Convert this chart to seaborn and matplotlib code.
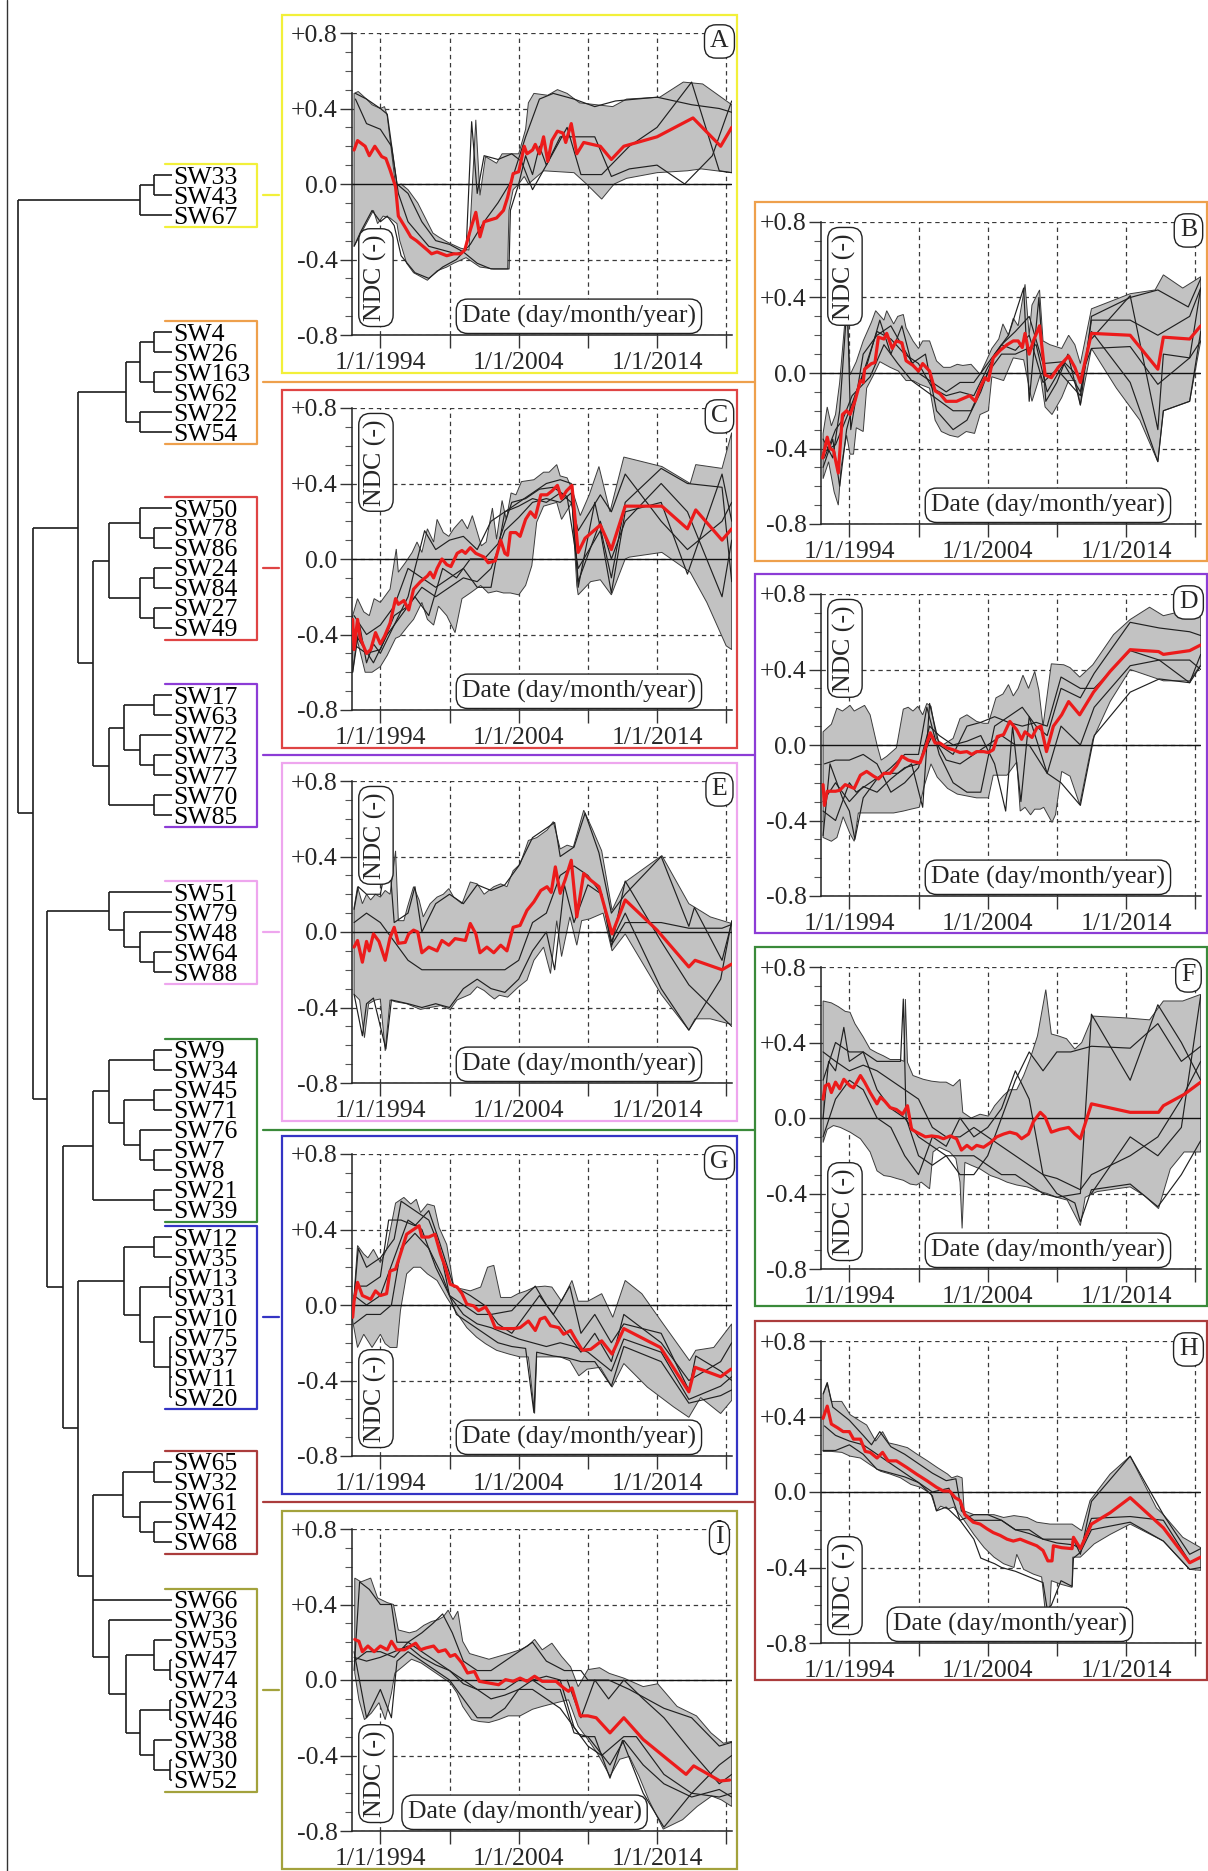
import numpy as np
import pandas as pd
import matplotlib
matplotlib.use("Agg")
import matplotlib.pyplot as plt
import seaborn as sns
from matplotlib.patches import Rectangle
from matplotlib import font_manager as fm

# ---------------------------------------------------------------------------
# Cluster membership (dendrogram leaves, top to bottom) and panel colours
# ---------------------------------------------------------------------------
panel_letters = ["A", "B", "C", "D", "E", "F", "G", "H", "I"]
cluster_sites = {
    "A": ["SW33", "SW43", "SW67"],
    "B": ["SW4", "SW26", "SW163", "SW62", "SW22", "SW54"],
    "C": ["SW50", "SW78", "SW86", "SW24", "SW84", "SW27", "SW49"],
    "D": ["SW17", "SW63", "SW72", "SW73", "SW77", "SW70", "SW85"],
    "E": ["SW51", "SW79", "SW48", "SW64", "SW88"],
    "F": ["SW9", "SW34", "SW45", "SW71", "SW76", "SW7", "SW8", "SW21", "SW39"],
    "G": ["SW12", "SW35", "SW13", "SW31", "SW10", "SW75", "SW37", "SW11", "SW20"],
    "H": ["SW65", "SW32", "SW61", "SW42", "SW68"],
    "I": ["SW66", "SW36", "SW53", "SW47", "SW74", "SW23", "SW46", "SW38", "SW30", "SW52"],
}
cluster_colors = {
    "A": "#f2f03a", "B": "#eea04c", "C": "#df4444", "D": "#8c3cd6",
    "E": "#eea6ee", "F": "#3a8a3a", "G": "#3434c4", "H": "#ab3c3c", "I": "#a3a23c",
}

# Linkage heights (dissimilarity, root = 1)
def N(h, *children):
    return (h, list(children))

tree_A = N(0.21, N(0.12, "SW33", "SW43"), "SW67")
tree_B = N(0.30, N(0.21, N(0.12, "SW4", "SW26"), N(0.12, "SW163", "SW62")),
           N(0.21, "SW22", "SW54"))
tree_C = N(0.41, N(0.21, "SW50", N(0.12, "SW78", "SW86")),
           N(0.21, N(0.12, "SW24", "SW84"), N(0.12, "SW27", "SW49")))
tree_D = N(0.41, N(0.31, N(0.12, "SW17", "SW63"), N(0.21, "SW72", N(0.12, "SW73", "SW77"))),
           N(0.12, "SW70", "SW85"))
tree_E = N(0.41, "SW51", N(0.31, "SW79", N(0.21, "SW48", N(0.12, "SW64", "SW88"))))
tree_F = N(0.51, N(0.41, N(0.12, "SW9", "SW34"),
                   N(0.31, N(0.12, "SW45", "SW71"), N(0.21, "SW76", N(0.12, "SW7", "SW8")))),
           N(0.12, "SW21", "SW39"))
tree_G = N(0.31, N(0.12, "SW12", "SW35"),
           N(0.21, N(0.01, "SW13", "SW31"), N(0.12, "SW10", N(0.01, "SW75", "SW37", "SW11", "SW20"))))
tree_H = N(0.32, N(0.12, "SW65", "SW32"), N(0.21, "SW61", N(0.12, "SW42", "SW68")))
tree_I = N(0.41, "SW36", N(0.30, N(0.12, "SW53", N(0.01, "SW47", "SW74")),
                          N(0.21, N(0.01, "SW23", "SW46"), N(0.12, "SW38", N(0.01, "SW30", "SW52")))))
tree_root = N(1.00, tree_A,
              N(0.90, N(0.61, tree_B, N(0.51, tree_C, tree_D)),
                      N(0.81, tree_E, N(0.71, tree_F, N(0.61, tree_G, N(0.51, tree_H, "SW66", tree_I))))))

# ---------------------------------------------------------------------------
# NDC series per cluster: (decimal year, NDC)
# ---------------------------------------------------------------------------
A_mean = [(1992.1, .18), (1992.35, .23), (1992.9, .20), (1993.2, .15), (1993.6, .20), (1994.1, .145),
          (1994.4, .135), (1994.7, .075), (1995.1, -.015), (1995.3, -.17), (1995.8, -.23), (1996.2, -.28),
          (1996.6, -.30), (1997.4, -.35), (1997.7, -.37), (1998.1, -.36), (1998.8, -.38), (1999.3, -.37),
          (1999.8, -.37), (2000.1, -.35), (2000.5, -.245), (2000.9, -.15), (2001.2, -.28), (2001.5, -.20),
          (2002.4, -.18), (2002.9, -.14), (2003.2, -.07), (2003.6, .055), (2004.0, .065), (2004.4, .20),
          (2004.6, .16), (2005.0, .18), (2005.2, .21), (2005.5, .16), (2005.8, .25), (2006.1, .12),
          (2006.4, .23), (2006.8, .28), (2007.2, .27), (2007.4, .22), (2007.8, .32), (2008.2, .16),
          (2008.7, .22), (2009.9, .20), (2010.7, .13), (2011.6, .20), (2014.0, .25), (2016.6, .35),
          (2018.6, .20), (2019.4, .30)]
A_upper = [(1992.1, .48), (1992.4, .49), (1993.0, .45), (1993.4, .42), (1994.0, .40), (1994.3, .41),
           (1994.5, .36), (1995.1, -.01), (1995.5, 0.0), (1996.0, -.03), (1996.7, -.10), (1997.8, -.26),
           (1998.2, -.28), (1998.9, -.31), (1999.8, -.34), (2000.4, -.35), (2000.9, .34), (2001.2, -.06),
           (2001.6, .145), (2002.4, .11), (2002.8, .16), (2004.0, .16), (2004.5, .29), (2004.7, .43),
           (2005.1, .48), (2006.1, .47), (2006.8, .50), (2007.5, .48), (2008.4, .43), (2010.8, .41),
           (2011.8, .45), (2014.2, .46), (2015.9, .54), (2017.3, .53), (2019.4, .42)]
A_lower = [(1992.1, -.33), (1993.5, -.14), (1993.8, -.21), (1994.2, -.17), (1994.7, -.18), (1995.2, -.21),
           (1995.4, -.30), (1995.9, -.42), (1996.4, -.47), (1997.4, -.51), (1998.1, -.46), (1998.8, -.44),
           (1999.3, -.42), (2000.2, -.39), (2001.2, -.44), (2002.2, -.45), (2003.2, -.45), (2003.3, -.14),
           (2003.6, -.03), (2004.0, 0.0), (2004.4, .04), (2004.7, 0.0), (2005.8, .07), (2008.0, .06),
           (2008.9, 0.0), (2010.0, -.08), (2010.9, 0.0), (2011.8, .03), (2014.0, .06), (2016.2, .07),
           (2017.2, .08), (2019.4, .06)]
A_site1 = [(1992.2, .48), (1993.0, .45), (1994.0, .40), (1994.5, .37), (1995.2, 0.0), (1996.0, -.05),
           (1997.0, -.20), (1998.0, -.30), (1999.0, -.32), (2000.0, -.36), (2001.0, -.42), (2002.0, -.45),
           (2003.3, -.45), (2003.4, -.14), (2004.0, 0.0), (2004.5, .15), (2005.0, .05), (2005.5, .20),
           (2006.0, .10), (2007.0, .25), (2008.0, .25), (2009.5, .25), (2010.7, .04), (2012.0, .08),
           (2014.0, .10), (2016.0, 0.0), (2018.0, .15), (2019.4, .44)]
A_site2 = [(1992.1, -.33), (1992.6, -.25), (1993.4, -.14), (1994.0, -.20), (1994.5, -.17), (1995.0, -.22),
           (1995.5, -.38), (1996.5, -.47), (1997.5, -.50), (1998.5, -.44), (1999.5, -.40), (2000.5, -.32),
           (2001.5, -.20), (2002.5, -.10), (2003.5, .02), (2004.5, .25), (2005.5, .45), (2006.5, .48),
           (2008.0, .45), (2009.5, .41), (2011.0, .44), (2014.0, .46), (2016.5, .42), (2018.5, .40),
           (2019.4, .38)]
A_site3 = [(1992.2, .45), (1993.0, .32), (1994.0, .29), (1994.8, .20), (1995.3, -.05), (1996.0, -.20),
           (1997.5, -.33), (1999.5, -.37), (2000.2, -.35), (2000.6, .33), (2001.0, -.05), (2001.5, .15),
           (2002.5, .13), (2003.5, .16), (2004.2, .12), (2005.0, -.03), (2006.0, .10), (2007.5, .30),
           (2008.5, .05), (2010.0, .05), (2012.0, .20), (2014.0, .30), (2016.5, .54), (2018.5, .07),
           (2019.4, .06)]

B_mean = [(1992.07, -.45), (1992.2, -.41), (1992.4, -.34), (1992.6, -.40), (1992.85, -.41), (1993.2, -.53),
          (1993.5, -.22), (1993.8, -.20), (1994.05, -.22), (1994.4, -.15), (1994.8, -.04), (1995.0, -.05),
          (1995.1, .02), (1995.6, .05), (1995.85, .055), (1996.1, .19), (1996.5, .18), (1996.7, .21),
          (1997.1, .13), (1997.4, .17), (1997.8, .16), (1998.1, .065), (1998.6, .04), (1999.0, .01),
          (1999.3, .05), (1999.8, .01), (2000.2, -.095), (2000.55, -.11), (2001.0, -.15), (2001.75, -.15),
          (2002.7, -.12), (2003.1, -.15), (2003.45, -.08), (2003.8, -.025), (2004.05, -.04), (2004.4, .08),
          (2004.9, .12), (2005.4, .15), (2005.85, .17), (2006.2, .17), (2006.5, .135), (2006.7, .21),
          (2007.0, .10), (2007.3, .17), (2007.75, .25), (2008.15, -.01), (2008.6, -.025), (2009.1, .03),
          (2009.85, .09), (2010.3, .03), (2010.7, -.05), (2011.5, .21), (2014.3, .20), (2016.3, .02),
          (2016.7, .19), (2018.6, .18), (2019.4, .25)]
B_upper = [(1992.1, -.32), (1992.4, -.18), (1992.7, -.28), (1993.0, -.22), (1993.3, -.05), (1993.8, .38),
           (1994.05, -.01), (1994.5, .06), (1995.0, .17), (1995.6, .27), (1995.9, .33), (1996.5, .28),
           (1996.7, .33), (1997.2, .26), (1997.5, .30), (1997.9, .31), (1998.1, .24), (1998.6, .17),
           (1999.0, .13), (1999.3, .17), (1999.8, .17), (2000.3, .064), (2000.8, .03), (2001.3, .03),
           (2001.8, .046), (2002.2, .04), (2002.8, .046), (2003.45, -.007), (2003.9, .064), (2004.3, .13),
           (2004.8, .18), (2005.1, .26), (2005.5, .20), (2005.85, .29), (2006.2, .25), (2006.7, .47),
           (2007.0, .20), (2007.2, .36), (2007.75, .44), (2008.0, .17), (2008.5, .15), (2009.35, .13),
           (2009.85, .20), (2010.3, .15), (2010.7, .05), (2011.5, .34), (2014.3, .42), (2016.1, .44),
           (2016.7, .52), (2018.1, .45), (2019.4, .51)]
B_lower = [(1992.1, -.56), (1992.5, -.47), (1992.9, -.63), (1993.2, -.70), (1993.4, -.50), (1993.8, -.33),
           (1994.05, -.43), (1994.3, -.43), (1994.5, -.29), (1995.0, -.31), (1995.25, -.08), (1995.75, -.01),
           (1996.2, .06), (1996.95, .03), (1997.55, .01), (1998.1, -.04), (1998.6, -.04), (1999.1, -.06),
           (1999.8, -.08), (2000.2, -.25), (2000.65, -.31), (2001.25, -.33), (2001.85, -.34), (2002.45, -.31),
           (2003.05, -.32), (2003.45, -.22), (2004.05, -.20), (2004.3, -.02), (2005.15, -.04), (2005.85, .08),
           (2006.6, .07), (2007.2, -.15), (2007.8, -.01), (2008.15, -.18), (2008.65, -.22), (2009.35, -.13),
           (2009.85, -.04), (2010.35, -.04), (2010.7, -.17), (2011.5, .13), (2013.3, -.08), (2015.0, -.25),
           (2016.3, -.47), (2016.7, -.20), (2018.6, -.15), (2019.4, .17)]
B_site1 = [(1992.1, -.50), (1992.8, -.35), (1993.3, -.60), (1993.8, -.30), (1994.5, -.10), (1995.3, .05),
           (1996.2, .28), (1997.0, .10), (1997.8, .25), (1998.5, .05), (1999.5, .10), (2000.3, -.20),
           (2001.5, -.30), (2002.5, -.25), (2003.5, -.10), (2004.5, .10), (2005.5, .20), (2006.6, .45),
           (2007.0, -.15), (2007.7, .40), (2008.2, -.15), (2009.0, -.05), (2009.8, .10), (2010.7, -.17),
           (2011.5, .30), (2014.3, .40), (2016.3, .44), (2018.5, .35), (2019.4, .50)]
B_site2 = [(1992.1, -.35), (1992.8, -.45), (1993.3, -.20), (1993.85, .38), (1994.1, -.30), (1995.0, .10),
           (1996.0, .20), (1997.0, .25), (1998.0, .12), (1999.0, 0.0), (2000.0, -.05), (2001.0, -.10),
           (2002.0, -.05), (2003.0, -.05), (2004.0, .05), (2005.0, .15), (2006.0, .22), (2007.0, .30),
           (2008.0, .05), (2009.5, .06), (2010.7, -.03), (2011.5, .13), (2014.3, .14), (2016.3, -.06),
           (2018.6, .08), (2019.4, .17)]
B_site3 = [(1992.2, -.45), (1993.0, -.30), (1993.5, -.25), (1994.2, -.12), (1995.5, -.02), (1996.5, .15),
           (1997.5, .05), (1998.5, -.04), (2000.0, -.12), (2001.5, -.20), (2002.8, -.20), (2004.0, 0.0),
           (2005.0, .10), (2006.0, .10), (2007.5, .15), (2008.3, -.10), (2009.5, .05), (2010.7, -.10),
           (2011.5, .22), (2014.3, -.05), (2016.3, -.47), (2016.7, -.20), (2018.6, -.15), (2019.4, .22)]
B_site4 = [(2011.5, .18), (2014.3, .41), (2016.3, -.30), (2016.7, .10), (2018.6, .08), (2019.4, .45)]
B_site5 = [(1992.1, -.42), (1993.0, -.38), (1994.0, -.20), (1995.0, 0.0), (1996.0, .22), (1997.0, .18),
           (1998.0, .10), (1999.0, .05), (2000.0, -.08), (2001.0, -.12), (2002.0, -.10), (2003.0, -.12),
           (2004.0, .03), (2005.0, .15), (2006.0, .12), (2007.0, .20), (2008.0, -.05), (2009.0, .02),
           (2010.7, -.12), (2011.5, .28), (2014.3, .28), (2016.3, .20), (2018.6, .30), (2019.4, .45)]

C_mean = [(1992.0, -.32), (1992.1, -.48), (1992.35, -.32), (1992.55, -.42), (1993.0, -.50), (1993.3, -.48),
          (1993.65, -.39), (1994.0, -.45), (1994.3, -.41), (1994.7, -.34), (1995.1, -.21), (1995.3, -.24),
          (1995.7, -.22), (1996.05, -.27), (1996.4, -.16), (1996.9, -.12), (1997.4, -.09), (1997.6, -.07),
          (1997.85, -.10), (1998.1, -.05), (1998.45, 0.0), (1998.8, -.03), (1999.1, -.04), (1999.55, .03),
          (1999.9, .045), (2000.15, .03), (2000.5, .06), (2000.9, .03), (2001.5, .01), (2001.8, -.02),
          (2002.3, -.01), (2002.7, .10), (2003.0, .03), (2003.2, .02), (2003.4, .14), (2003.8, .14),
          (2004.1, .12), (2004.5, .21), (2004.85, .25), (2005.2, .22), (2005.6, .34), (2006.05, .34),
          (2006.4, .36), (2006.8, .39), (2007.1, .32), (2007.45, .36), (2007.85, .39), (2008.3, .035),
          (2008.8, .11), (2009.9, .18), (2010.7, .05), (2011.7, .28), (2014.35, .28), (2016.2, .16),
          (2016.8, .26), (2018.7, .10), (2019.4, .16)]
C_upper = [(1992.0, -.30), (1992.35, -.21), (1992.8, -.28), (1993.2, -.30), (1993.55, -.21), (1994.0, -.23),
           (1994.4, -.19), (1994.7, -.16), (1995.15, .053), (1995.3, -.07), (1995.8, -.02), (1996.3, .035),
           (1996.65, .09), (1997.0, .035), (1997.4, .16), (1997.85, .09), (1998.1, .21), (1998.55, .14),
           (1998.95, .12), (1999.3, .16), (1999.9, .21), (2000.3, .16), (2000.65, .23), (2001.3, .07),
           (2001.65, .09), (2002.1, .27), (2002.4, .105), (2002.8, .31), (2003.1, .21), (2003.45, .35),
           (2003.8, .34), (2004.2, .41), (2005.1, .42), (2005.8, .46), (2006.2, .46), (2006.75, .50),
           (2007.0, .44), (2007.5, .43), (2007.85, .37), (2008.45, .23), (2009.1, .34), (2009.8, .49),
           (2010.6, .25), (2011.6, .54), (2014.35, .49), (2016.4, .40), (2016.8, .50), (2018.7, .48),
           (2019.4, .67)]
C_lower = [(1992.0, -.60), (1992.3, -.42), (1992.9, -.60), (1993.4, -.60), (1994.0, -.57), (1994.5, -.51),
           (1995.1, -.42), (1995.4, -.41), (1996.05, -.35), (1996.4, -.32), (1997.0, -.23), (1997.4, -.32),
           (1997.85, -.35), (1998.2, -.25), (1998.8, -.30), (1999.4, -.39), (1999.9, -.21), (2000.5, -.18),
           (2001.25, -.14), (2001.8, -.18), (2002.4, -.17), (2002.9, -.18), (2003.4, -.18), (2004.0, -.19),
           (2004.5, -.14), (2004.95, -.035), (2005.3, .195), (2005.8, .28), (2006.75, .30), (2007.1, .21),
           (2007.85, .30), (2008.2, -.14), (2008.3, -.19), (2009.2, -.12), (2009.9, -.11), (2010.7, -.19),
           (2011.7, 0.0), (2012.0, .01), (2014.35, .035), (2016.4, -.07), (2017.6, -.23), (2019.0, -.46),
           (2019.4, -.48)]
C_site1 = [(1992.0, -.60), (1992.5, -.35), (1993.0, -.55), (1993.5, -.45), (1994.0, -.50), (1995.0, -.35),
           (1996.0, -.20), (1996.5, -.05), (1997.2, .15), (1998.0, .05), (1999.0, .10), (2000.0, .12),
           (2001.0, .05), (2002.0, .20), (2003.0, .25), (2004.0, .30), (2005.0, .35), (2006.0, .40),
           (2007.0, .42), (2007.8, .40), (2008.3, -.15), (2009.5, .30), (2010.7, -.10), (2011.7, .30),
           (2014.3, .48), (2016.2, .40), (2018.7, .38), (2019.4, -.12)]
C_site2 = [(1992.1, -.30), (1993.0, -.40), (1994.0, -.35), (1995.0, -.25), (1996.0, -.05), (1997.0, -.10),
           (1998.0, -.15), (1999.0, -.10), (2000.0, -.05), (2001.0, -.15), (2002.0, -.15), (2003.0, .25),
           (2004.0, .28), (2005.0, .32), (2006.0, .30), (2007.0, .35), (2007.8, .30), (2008.3, .15),
           (2009.9, .34), (2010.7, .25), (2011.7, .45), (2014.3, .20), (2016.2, .05), (2018.7, .20),
           (2019.4, .30)]
C_site3 = [(1992.2, -.40), (1993.5, -.55), (1994.5, -.40), (1995.5, -.30), (1996.5, -.20), (1997.5, -.30),
           (1998.5, -.05), (1999.5, -.10), (2000.5, 0.0), (2001.5, 0.0), (2002.5, .08), (2003.5, .30),
           (2004.5, .32), (2005.5, .37), (2006.5, .38), (2007.5, .33), (2008.3, -.05), (2009.9, .15),
           (2010.7, -.18), (2011.7, .25), (2014.3, .30), (2016.2, -.08), (2018.7, .45), (2019.4, .20)]
C_site4 = [(1992.0, -.45), (1993.0, -.50), (1994.0, -.48), (1995.0, -.30), (1996.0, -.25), (1997.0, -.15),
           (1998.0, -.20), (1999.0, -.15), (2000.0, -.10), (2001.0, -.12), (2002.0, -.05), (2003.0, .15),
           (2004.0, .22), (2005.0, .30), (2006.0, .32), (2007.0, .30), (2007.8, .35), (2008.3, -.12),
           (2009.9, .20), (2010.7, 0.0), (2011.7, .20), (2014.3, .40), (2016.2, .25), (2018.7, -.20),
           (2019.4, .10)]

D_mean = [(1992.1, -.21), (1992.2, -.32), (1992.4, -.245), (1993.0, -.245), (1993.3, -.24), (1993.7, -.21),
          (1994.35, -.23), (1994.8, -.16), (1995.25, -.14), (1995.75, -.165), (1996.1, -.18), (1996.5, -.15),
          (1996.95, -.15), (1997.4, -.11), (1997.8, -.06), (1998.25, -.08), (1998.75, -.09), (1999.1, -.095),
          (1999.5, -.015), (1999.85, .065), (2000.2, .01), (2000.55, .01), (2001.05, -.015), (2001.5, -.025),
          (2002.0, -.04), (2002.5, -.035), (2002.85, -.05), (2003.2, -.035), (2003.7, -.035), (2004.05, -.04),
          (2004.4, -.025), (2004.7, .045), (2005.15, .055), (2005.6, .125), (2006.1, .08), (2006.45, .03),
          (2006.7, .07), (2007.2, .04), (2007.55, .09), (2007.85, .10), (2008.25, -.035), (2008.75, .10),
          (2009.35, .16), (2009.85, .23), (2010.65, .16), (2011.65, .28), (2012.85, .39), (2014.3, .505),
          (2016.35, .495), (2016.7, .48), (2018.6, .50), (2019.4, .53)]
D_upper = [(1992.1, .07), (1992.7, .11), (1993.1, .195), (1993.5, .18), (1994.05, .21), (1994.35, .18),
           (1994.6, .19), (1995.1, .21), (1995.5, .16), (1996.0, 0.0), (1996.3, -.08), (1996.7, -.06),
           (1997.4, -.015), (1997.9, .19), (1998.25, .20), (1998.6, .18), (1998.95, .205), (1999.3, .16),
           (1999.6, .22), (1999.9, .205), (2000.3, .035), (2000.75, 0.0), (2001.5, .035), (2002.0, .14),
           (2002.5, .16), (2003.2, .125), (2003.7, .115), (2004.05, .115), (2004.6, .25), (2005.1, .27),
           (2005.5, .32), (2005.85, .26), (2006.2, .30), (2006.55, .37), (2006.95, .30), (2007.4, .39),
           (2007.7, .29), (2008.0, .10), (2008.6, .43), (2009.5, .425), (2009.95, .41), (2010.65, .36),
           (2011.6, .425), (2013.1, .585), (2014.3, .665), (2015.7, .73), (2016.7, .685), (2018.1, .71),
           (2019.4, .75)]
D_lower = [(1992.1, -.49), (1992.7, -.51), (1993.1, -.49), (1993.55, -.38), (1994.05, -.47), (1994.35, -.51),
           (1994.65, -.36), (1995.5, -.36), (1996.5, -.36), (1997.2, -.36), (1997.9, -.35), (1998.45, -.34),
           (1999.05, -.33), (1999.4, -.22), (1999.9, -.10), (2000.35, -.17), (2001.1, -.23), (2001.8, -.26),
           (2002.5, -.27), (2003.2, -.28), (2004.05, -.28), (2004.4, -.16), (2005.4, -.16), (2006.1, -.09),
           (2006.35, -.35), (2006.7, -.33), (2007.1, -.37), (2007.4, -.34), (2007.8, -.34), (2008.05, -.33),
           (2008.65, -.41), (2008.9, -.37), (2009.35, -.14), (2009.95, -.165), (2010.65, -.315), (2011.6, .03),
           (2012.85, .23), (2014.3, .40), (2016.7, .34), (2018.6, .34), (2019.4, .425)]
D_site1 = [(1992.1, -.48), (1992.6, -.10), (1993.5, -.28), (1994.0, -.35), (1994.4, -.50), (1995.0, -.28),
           (1996.0, -.18), (1997.0, -.12), (1998.0, -.05), (1999.0, -.05), (1999.6, .20), (2000.5, -.05),
           (2001.5, -.20), (2002.5, -.25), (2003.5, -.25), (2004.5, .10), (2005.5, .15), (2006.5, .20),
           (2007.5, .10), (2008.3, .05), (2009.3, .30), (2010.7, .25), (2011.7, .38), (2014.3, .65),
           (2016.4, .62), (2018.6, .60), (2019.4, .58)]
D_site2 = [(1992.2, -.10), (1993.0, -.08), (1994.0, -.08), (1995.0, -.05), (1996.0, -.10), (1997.0, -.25),
           (1998.0, -.20), (1999.0, -.12), (1999.8, .10), (2000.5, .05), (2001.5, 0.0), (2002.5, .02),
           (2003.5, .05), (2004.5, -.10), (2005.3, -.35), (2005.8, .10), (2006.4, -.30), (2007.0, .15),
           (2008.3, -.15), (2009.3, -.20), (2010.7, -.32), (2011.7, .05), (2014.3, .28), (2016.4, .35),
           (2018.6, .33), (2019.4, .42)]
D_site3 = [(1992.1, -.35), (1993.0, -.40), (1994.0, -.20), (1994.5, -.25), (1995.5, -.20), (1996.5, -.15),
           (1997.5, -.15), (1998.5, -.10), (1999.3, -.33), (1999.8, .22), (2000.5, 0.0), (2001.5, -.05),
           (2002.5, .10), (2003.5, .12), (2004.5, .15), (2005.5, .12), (2006.5, .10), (2007.5, .12),
           (2008.3, .10), (2009.3, .36), (2010.7, .30), (2011.7, .30), (2014.3, .50), (2016.4, .45),
           (2018.6, .33), (2019.4, .48)]
D_site4 = [(1992.1, -.30), (1993.0, -.20), (1994.0, -.30), (1995.0, -.22), (1996.0, -.25), (1997.0, -.18),
           (1998.0, -.12), (1999.0, -.10), (2000.0, .05), (2001.0, -.08), (2002.0, -.10), (2003.0, -.05),
           (2004.0, 0.0), (2005.0, .05), (2006.0, 0.0), (2007.0, 0.0), (2008.3, -.15), (2009.3, .10),
           (2010.7, 0.0), (2011.7, .20), (2014.3, .42), (2016.4, .45), (2018.6, .45), (2019.4, .40)]

E_mean = [(1992.1, -.08), (1992.35, -.045), (1992.7, -.16), (1993.0, -.05), (1993.2, -.10), (1993.5, -.01),
          (1993.9, -.05), (1994.35, -.15), (1994.7, -.03), (1995.0, .025), (1995.3, -.06), (1995.8, -.055),
          (1996.05, -.01), (1996.4, .01), (1996.7, 0.0), (1997.0, -.11), (1997.5, -.08), (1998.1, -.10),
          (1998.45, -.045), (1998.95, -.07), (1999.4, -.035), (2000.15, -.045), (2000.5, .045), (2000.9, -.01),
          (2001.2, -.11), (2001.7, -.08), (2002.2, -.11), (2002.7, -.07), (2003.15, -.10), (2003.6, .025),
          (2004.1, .035), (2004.6, .115), (2005.1, .16), (2005.6, .22), (2006.05, .24), (2006.35, .21),
          (2006.65, .345), (2007.0, .205), (2007.35, .275), (2007.8, .38), (2008.2, .08), (2008.7, .31),
          (2009.2, .275), (2009.8, .24), (2010.75, -.01), (2011.7, .17), (2014.0, .01), (2016.3, -.185),
          (2016.75, -.15), (2018.7, -.20), (2019.4, -.17)]
E_upper = [(1992.1, .13), (1992.35, .24), (1992.7, .15), (1993.0, .20), (1993.3, .17), (1993.65, .20),
           (1994.0, .185), (1994.35, .22), (1994.7, .20), (1995.1, .43), (1995.3, .06), (1995.7, .06),
           (1995.95, .13), (1996.4, .24), (1996.8, .17), (1997.1, .08), (1997.6, .15), (1998.1, .185),
           (1998.55, .20), (1998.95, .23), (1999.3, .185), (1999.9, .15), (2000.5, .265), (2001.0, .255),
           (2001.5, .20), (2002.2, .24), (2002.7, .255), (2003.15, .24), (2003.6, .325), (2004.1, .36),
           (2004.7, .485), (2005.3, .50), (2006.05, .54), (2006.5, .585), (2007.0, .44), (2007.5, .46),
           (2007.95, .45), (2008.7, .645), (2009.3, .55), (2010.0, .43), (2010.75, .115), (2011.7, .265),
           (2014.35, .405), (2016.3, .15), (2016.75, .13), (2017.85, .08), (2019.4, .045)]
E_lower = [(1992.1, -.33), (1992.5, -.36), (1992.85, -.56), (1993.15, -.38), (1993.65, -.36), (1994.0, -.355),
           (1994.35, -.63), (1994.7, -.36), (1995.1, -.37), (1995.9, -.38), (1996.9, -.41), (1997.6, -.40),
           (1998.35, -.39), (1999.05, -.41), (1999.55, -.36), (2000.5, -.33), (2001.0, -.29), (2001.5, -.31),
           (2001.9, -.335), (2002.25, -.355), (2002.6, -.335), (2003.2, -.345), (2004.0, -.29), (2004.6, -.255),
           (2005.1, -.15), (2005.8, -.08), (2006.3, -.22), (2006.75, .06), (2007.1, -.13), (2007.7, .08),
           (2008.2, -.07), (2008.55, .06), (2009.15, .07), (2010.1, .10), (2010.75, -.10), (2011.7, -.01),
           (2014.3, -.33), (2016.3, -.52), (2016.75, -.46), (2017.85, -.46), (2019.4, -.49)]
E_site1 = [(1992.1, .12), (1992.4, .24), (1993.0, .20), (1994.0, .20), (1994.6, .43), (1995.0, .05),
           (1996.0, .10), (1996.5, .24), (1997.0, 0.0), (1998.0, .15), (1999.0, .20), (2000.0, .15),
           (2001.0, .25), (2002.0, .22), (2003.0, .25), (2004.0, .35), (2005.0, .50), (2006.0, .55),
           (2006.6, .58), (2007.0, .40), (2008.0, .45), (2008.8, .63), (2009.8, .42), (2010.7, .10),
           (2011.7, .20), (2014.3, .40), (2016.3, .03), (2016.7, .13), (2018.7, -.15), (2019.4, .05)]
E_site2 = [(1992.1, -.33), (1992.7, -.55), (1993.0, -.38), (1993.5, -.35), (1994.4, -.62), (1994.8, -.36),
           (1996.0, -.38), (1997.0, -.40), (1998.0, -.38), (1999.0, -.40), (2000.0, -.30), (2001.0, -.25),
           (2002.0, -.30), (2003.0, -.32), (2004.0, -.25), (2005.0, -.10), (2006.0, 0.0), (2006.6, -.20),
           (2007.3, .25), (2008.0, .05), (2009.0, .25), (2010.0, .20), (2010.7, -.05), (2011.7, .10),
           (2014.3, -.30), (2016.3, -.52), (2018.6, -.25), (2019.4, .06)]
E_site3 = [(1992.1, .05), (1993.0, .10), (1994.0, .05), (1995.0, -.05), (1996.0, -.15), (1997.0, -.20),
           (1998.0, -.20), (1999.0, -.20), (2000.0, -.20), (2001.0, -.20), (2002.0, -.20), (2003.0, -.20),
           (2004.0, -.15), (2005.0, .05), (2006.0, .10), (2007.0, .30), (2008.0, .35), (2009.0, .30),
           (2010.0, .20), (2010.7, -.07), (2011.7, .05), (2014.3, .05), (2016.3, .02), (2018.7, .02),
           (2019.4, .04)]
E_site4 = [(2010.7, -.08), (2011.7, .27), (2014.3, -.05), (2016.3, -.28), (2018.7, -.45), (2019.4, -.50)]

F_mean = [(1992.1, .10), (1992.25, .17), (1992.5, .18), (1992.7, .135), (1993.0, .19), (1993.3, .155),
          (1993.6, .205), (1994.05, .17), (1994.3, .16), (1994.8, .225), (1995.1, .19), (1995.5, .135),
          (1996.0, .075), (1996.25, .11), (1996.55, .09), (1996.95, .055), (1997.4, .045), (1997.85, .02),
          (1998.2, .065), (1998.5, -.06), (1998.85, -.075), (1999.5, -.10), (1999.95, -.095), (2000.45, -.10),
          (2000.8, -.11), (2001.3, -.095), (2001.75, -.11), (2002.1, -.17), (2002.5, -.145), (2002.85, -.165),
          (2003.2, -.145), (2003.7, -.155), (2004.2, -.13), (2004.65, -.10), (2005.15, -.085), (2005.6, -.075),
          (2006.1, -.085), (2006.45, -.11), (2006.95, -.085), (2007.3, -.02), (2007.8, .03), (2008.15, .005),
          (2008.6, -.075), (2009.2, -.06), (2009.85, -.05), (2010.3, -.085), (2010.7, -.11), (2011.5, .075),
          (2014.3, .03), (2016.35, .03), (2016.7, .065), (2018.2, .125), (2019.4, .19)]
F_upper = [(1992.1, .62), (1992.7, .61), (1993.2, .59), (1993.7, .565), (1994.05, .56), (1994.4, .50),
           (1995.0, .43), (1995.5, .365), (1996.0, .345), (1996.45, .33), (1996.95, .31), (1997.65, .31),
           (1997.95, .30), (1998.05, .63), (1998.2, .295), (1998.6, .225), (1999.35, .205), (1999.95, .195),
           (2000.55, .19), (2001.0, .19), (2001.5, .17), (2002.0, .205), (2002.2, .03), (2002.8, 0.0),
           (2003.45, .02), (2004.05, .01), (2004.5, .065), (2005.15, .12), (2005.6, .15), (2006.1, .15),
           (2006.6, .225), (2007.05, .31), (2007.6, .435), (2008.2, .68), (2008.6, .445), (2009.1, .435),
           (2009.7, .42), (2010.3, .365), (2010.8, .40), (2011.6, .54), (2014.05, .53), (2015.7, .52),
           (2016.7, .62), (2018.1, .62), (2019.4, .655)]
F_lower = [(1992.1, -.13), (1992.4, -.06), (1992.85, -.04), (1993.35, -.05), (1994.05, -.075), (1994.8, -.11),
           (1995.5, -.18), (1996.0, -.28), (1996.5, -.305), (1996.95, -.31), (1997.4, -.32), (1997.9, -.33),
           (1998.4, -.35), (1998.85, -.355), (1999.2, -.34), (1999.8, -.375), (2000.05, -.18), (2000.5, -.155),
           (2001.25, -.18), (2001.7, -.215), (2002.0, -.34), (2002.15, -.585), (2002.35, -.235), (2002.8, -.25),
           (2003.45, -.27), (2004.2, -.305), (2004.8, -.32), (2005.4, -.34), (2006.1, -.355), (2006.85, -.365),
           (2007.55, -.385), (2008.3, -.40), (2009.0, -.42), (2009.75, -.435), (2010.7, -.57), (2011.05, -.42),
           (2011.9, -.39), (2013.3, -.375), (2014.3, -.365), (2015.3, -.41), (2016.35, -.48), (2017.2, -.27),
           (2018.2, -.18), (2019.4, -.18)]
F_site1 = [(1992.1, 0.0), (1992.5, .30), (1993.0, .25), (1993.6, .48), (1994.0, .30), (1995.0, .35),
           (1996.0, .30), (1997.0, .30), (1997.7, .30), (1997.9, .63), (1998.1, 0.0), (1999.0, -.20),
           (2000.0, -.25), (2001.0, -.20), (2002.0, -.30), (2003.0, -.30), (2004.0, -.20), (2005.0, 0.0),
           (2006.0, .20), (2007.0, .35), (2008.0, .25), (2009.0, .35), (2010.0, .35), (2011.5, .38),
           (2014.3, .37), (2016.3, .50), (2018.0, .30), (2019.4, .38)]
F_site2 = [(1992.1, -.10), (1993.0, .10), (1994.0, .20), (1995.0, .15), (1996.0, 0.0), (1997.0, -.05),
           (1998.0, -.20), (1999.0, -.30), (2000.0, -.10), (2001.0, -.15), (2002.0, 0.0), (2003.0, -.10),
           (2004.0, -.05), (2005.0, .05), (2006.0, .25), (2007.0, .10), (2008.0, -.30), (2009.0, -.40),
           (2010.3, -.45), (2010.7, -.55), (2011.5, -.38), (2014.3, -.35), (2016.3, -.47), (2018.0, -.30),
           (2019.4, -.12)]
F_site3 = [(1992.1, .20), (1993.0, .40), (1994.0, .35), (1995.0, .35), (1996.0, .15), (1997.0, .05),
           (1998.0, 0.0), (1999.0, -.10), (2000.0, -.15), (2001.0, -.20), (2002.0, -.20), (2003.0, -.20),
           (2004.0, -.25), (2005.0, -.30), (2006.0, -.30), (2007.0, -.35), (2008.0, -.40), (2009.0, -.42),
           (2010.7, -.40), (2011.5, .55), (2014.3, .20), (2016.3, .60), (2018.0, .40), (2019.4, .20)]
F_site4 = [(2011.5, -.40), (2014.3, -.10), (2016.3, -.20), (2018.0, -.05), (2019.4, .65)]
F_site5 = [(1992.1, .35), (1993.0, .30), (1994.0, .25), (1995.0, .28), (1996.0, .25), (1997.0, .20),
           (1998.0, .15), (1999.0, .10), (2000.0, -.05), (2001.0, -.10), (2002.0, -.10), (2003.0, -.05),
           (2004.0, -.10), (2005.0, -.15), (2006.0, -.20), (2007.0, -.25), (2008.0, -.30), (2009.0, -.32),
           (2010.7, -.38), (2011.5, -.30), (2014.3, -.20), (2016.3, -.10), (2018.0, .10), (2019.4, .30)]

G_mean = [(1992.0, -.065), (1992.1, .02), (1992.35, .12), (1992.7, .05), (1993.0, .04), (1993.3, .03),
          (1993.65, .075), (1994.0, .05), (1994.45, .06), (1994.7, .18), (1995.1, .19), (1995.45, .27),
          (1995.9, .375), (1996.4, .40), (1996.8, .42), (1997.0, .36), (1997.5, .36), (1997.95, .375),
          (1998.35, .27), (1998.7, .20), (1999.05, .11), (1999.55, .095), (1999.9, .06), (2000.25, .005),
          (2000.75, -.005), (2001.1, -.03), (2001.6, -.01), (2001.95, -.055), (2002.3, -.12), (2002.9, -.125),
          (2003.65, -.125), (2004.1, -.12), (2004.7, -.085), (2004.95, -.11), (2005.2, -.135), (2005.55, -.075),
          (2005.9, -.065), (2006.3, -.11), (2006.9, -.12), (2007.25, -.155), (2007.75, -.135), (2008.1, -.18),
          (2008.6, -.24), (2009.2, -.235), (2010.0, -.19), (2010.75, -.26), (2011.6, -.125), (2014.25, -.225),
          (2016.3, -.46), (2016.75, -.33), (2018.6, -.38), (2019.35, -.34)]
G_upper = [(1992.0, -.05), (1992.35, .315), (1992.8, .27), (1993.1, .25), (1993.5, .295), (1994.0, .225),
           (1994.45, .295), (1994.7, .39), (1995.1, .54), (1995.7, .57), (1996.2, .535), (1996.6, .56),
           (1996.9, .49), (1997.4, .535), (1997.9, .525), (1998.25, .41), (1998.8, .32), (1999.3, .095),
           (1999.9, .085), (2000.5, .075), (2001.25, .095), (2001.75, .20), (2002.2, .21), (2002.7, .04),
           (2003.45, .04), (2003.95, .06), (2004.55, .075), (2005.15, .095), (2005.9, .10), (2006.4, .095),
           (2007.1, .02), (2007.85, .13), (2008.3, .02), (2009.0, .02), (2010.0, .06), (2010.8, -.065),
           (2011.7, .13), (2012.9, .06), (2014.3, -.085), (2016.35, -.295), (2016.8, -.24), (2018.1, -.225),
           (2019.4, -.10)]
G_lower = [(1992.0, -.085), (1992.35, -.225), (1992.8, -.155), (1993.4, -.225), (1994.0, -.155), (1994.35, -.205),
           (1994.7, -.225), (1995.2, -.225), (1995.45, -.03), (1995.9, .165), (1996.4, .20), (1996.9, .20),
           (1997.4, .165), (1998.1, .13), (1998.8, .04), (1999.55, -.045), (2000.25, -.12), (2000.95, -.17),
           (2001.6, -.205), (2002.4, -.24), (2003.3, -.26), (2004.1, -.275), (2004.7, -.275), (2005.15, -.575),
           (2005.3, -.275), (2006.0, -.275), (2007.0, -.275), (2007.7, -.295), (2008.35, -.375), (2008.95, -.34),
           (2009.9, -.33), (2010.75, -.435), (2011.6, -.31), (2013.3, -.435), (2015.2, -.54), (2016.3, -.595),
           (2017.15, -.49), (2018.6, -.575), (2019.4, -.505)]
G_site1 = [(1992.0, -.05), (1992.4, .30), (1993.0, .20), (1994.0, .25), (1995.0, .35), (1995.5, .55),
           (1996.5, .50), (1997.5, .45), (1998.3, .30), (1999.0, .05), (2000.0, 0.0), (2001.0, -.05),
           (2002.0, -.05), (2003.5, -.03), (2004.5, .05), (2005.2, .10), (2006.0, 0.0), (2007.5, -.15),
           (2008.5, -.25), (2009.5, -.15), (2010.7, -.30), (2011.6, -.05), (2014.3, -.20), (2016.3, -.40),
           (2018.6, -.30), (2019.4, -.20)]
G_site2 = [(1992.1, -.10), (1993.0, -.05), (1994.0, -.05), (1994.8, 0.0), (1995.5, .30), (1996.5, .38),
           (1997.5, .30), (1998.5, .15), (1999.5, -.05), (2000.5, -.10), (2001.5, -.15), (2002.5, -.20),
           (2003.5, -.22), (2004.5, -.23), (2005.1, -.57), (2005.3, -.25), (2006.5, -.27), (2007.5, -.28),
           (2008.5, -.30), (2009.5, -.30), (2010.7, -.43), (2011.6, -.22), (2014.3, -.30), (2016.3, -.52),
           (2018.6, -.48), (2019.4, -.45)]
G_site3 = [(1992.2, .10), (1993.0, .10), (1994.0, .15), (1994.6, .45), (1995.5, .45), (1996.5, .42),
           (1997.5, .50), (1998.2, .35), (1999.3, .10), (2000.5, .05), (2001.5, 0.0), (2002.5, -.10),
           (2003.5, -.15), (2004.5, -.05), (2005.5, .05), (2006.5, -.05), (2007.7, .10), (2008.5, -.15),
           (2009.5, -.05), (2010.7, -.20), (2011.6, -.10), (2014.3, -.15), (2016.3, -.45), (2016.8, -.27),
           (2018.6, -.35), (2019.4, -.40)]
G_site4 = [(1992.1, .05), (1993.0, 0.0), (1994.0, .05), (1995.0, .25), (1996.0, .45), (1997.0, .40),
           (1998.0, .20), (1999.0, .05), (2000.0, -.05), (2001.0, -.10), (2002.0, -.12), (2003.0, -.15),
           (2004.0, -.18), (2005.0, -.20), (2006.0, -.22), (2007.0, -.20), (2008.0, -.22), (2009.0, -.25),
           (2010.7, -.35), (2011.6, -.18), (2014.3, -.25), (2016.3, -.50), (2018.6, -.43), (2019.4, -.38)]

H_mean = [(1992.1, .39), (1992.4, .455), (1992.7, .36), (1993.15, .34), (1993.55, .32), (1994.0, .32),
          (1994.3, .28), (1994.8, .28), (1995.15, .215), (1995.5, .21), (1996.0, .18), (1996.4, .21),
          (1996.8, .165), (1997.4, .165), (1998.15, .13), (1998.85, .095), (1999.6, .06), (2000.3, .025),
          (2000.8, .005), (2001.25, .005), (2001.65, -.03), (2002.0, -.045), (2002.35, -.12), (2002.95, -.16),
          (2003.45, -.17), (2003.95, -.195), (2004.4, -.215), (2004.9, -.23), (2005.4, -.25), (2005.85, -.26),
          (2006.35, -.25), (2006.85, -.265), (2007.55, -.285), (2008.0, -.31), (2008.35, -.365), (2008.65, -.365),
          (2008.75, -.285), (2009.35, -.295), (2010.1, -.30), (2010.2, -.24), (2010.7, -.30), (2011.5, -.17),
          (2012.85, -.11), (2014.3, -.03), (2016.7, -.19), (2018.6, -.375), (2019.4, -.345)]
H_upper = [(1992.1, .515), (1992.4, .575), (1992.7, .48), (1993.45, .48), (1994.05, .41), (1994.8, .375),
           (1995.25, .355), (1995.9, .27), (1996.4, .32), (1996.85, .26), (1997.45, .25), (1998.2, .235),
           (1998.9, .20), (1999.65, .165), (2000.35, .13), (2001.1, .095), (2001.4, .075), (2001.8, .085),
           (2002.15, .075), (2002.3, -.10), (2003.0, -.12), (2003.7, -.12), (2004.45, -.12), (2005.15, -.135),
           (2005.9, -.125), (2006.85, -.135), (2007.55, -.16), (2008.5, -.17), (2009.5, -.17), (2010.1, -.17),
           (2010.8, -.205), (2011.4, -.045), (2012.85, .095), (2014.3, .19), (2016.2, -.085), (2016.7, -.12),
           (2018.1, -.24), (2019.4, -.295)]
H_lower = [(1992.1, .215), (1992.7, .215), (1993.45, .21), (1994.05, .19), (1994.8, .18), (1995.5, .145),
           (1996.25, .11), (1996.95, .095), (1997.7, .075), (1998.45, .04), (1999.15, .025), (1999.9, -.01),
           (2000.3, -.10), (2000.6, -.075), (2001.1, -.09), (2001.55, -.08), (2002.3, -.15), (2003.0, -.225),
           (2003.75, -.295), (2004.45, -.345), (2005.15, -.38), (2005.9, -.40), (2006.1, -.33), (2006.6, -.41),
           (2007.3, -.435), (2007.9, -.45), (2008.15, -.625), (2008.5, -.61), (2008.6, -.47), (2009.35, -.49),
           (2010.1, -.505), (2010.15, -.345), (2010.7, -.345), (2011.7, -.275), (2012.85, -.225), (2014.3, -.17),
           (2016.7, -.26), (2018.6, -.41), (2019.4, -.415)]
H_site1 = [(1992.1, .52), (1992.4, .58), (1992.8, .45), (1994.0, .38), (1995.0, .30), (1995.6, .25),
           (1996.2, .32), (1997.0, .24), (1998.0, .20), (1999.0, .15), (2000.0, .10), (2001.0, .06),
           (2001.7, .07), (2002.1, -.10), (2003.0, -.15), (2004.0, -.15), (2005.0, -.15), (2006.0, -.20),
           (2007.0, -.20), (2008.0, -.25), (2009.0, -.25), (2010.2, -.25), (2010.7, -.33), (2011.5, -.05),
           (2014.3, .19), (2016.7, -.12), (2018.6, -.33), (2019.4, -.30)]
H_site2 = [(1992.1, .22), (1993.0, .22), (1994.0, .25), (1995.0, .20), (1996.0, .12), (1997.0, .10),
           (1998.0, .08), (1999.0, .05), (2000.0, -.02), (2000.3, -.10), (2001.0, -.08), (2002.0, -.15),
           (2003.0, -.25), (2003.5, -.35), (2004.5, -.38), (2005.0, -.40), (2006.0, -.42), (2007.0, -.45),
           (2008.0, -.48), (2008.3, -.62), (2008.6, -.60), (2009.3, -.47), (2010.1, -.50), (2010.2, -.35),
           (2010.7, -.32), (2011.5, -.20), (2014.3, -.16), (2016.7, -.26), (2018.6, -.41), (2019.4, -.40)]
H_site3 = [(1992.2, .35), (1993.0, .30), (1994.0, .27), (1995.0, .25), (1996.0, .20), (1997.0, .15),
           (1998.0, .10), (1999.0, .05), (2000.0, 0.0), (2001.2, .02), (2002.0, -.15), (2003.0, -.12),
           (2004.0, -.12), (2005.0, -.15), (2006.0, -.20), (2007.0, -.22), (2008.0, -.25), (2009.0, -.27),
           (2010.2, -.28), (2010.7, -.30), (2011.5, -.14), (2014.3, -.13), (2016.7, -.15), (2018.6, -.37),
           (2019.4, -.35)]

I_mean = [(1992.15, .215), (1992.45, .205), (1992.7, .15), (1993.1, .18), (1993.55, .15), (1994.0, .18),
          (1994.5, .16), (1994.8, .205), (1995.2, .16), (1995.75, .16), (1996.2, .18), (1996.55, .195),
          (1996.9, .16), (1997.3, .17), (1997.85, .18), (1998.2, .15), (1998.7, .16), (1999.05, .125),
          (1999.4, .135), (1999.9, .09), (2000.3, .037), (2000.8, .045), (2001.15, -.007), (2001.85, -.016),
          (2002.55, -.025), (2003.05, .002), (2003.6, -.007), (2004.1, .01), (2004.6, -.007), (2005.15, .02),
          (2005.7, -.007), (2006.2, -.007), (2006.7, -.007), (2007.25, -.042), (2007.6, -.06), (2007.85, -.042),
          (2008.45, -.19), (2009.0, -.19), (2009.6, -.20), (2010.6, -.28), (2011.6, -.20), (2013.0, -.315),
          (2014.75, -.42), (2016.1, -.50), (2016.65, -.455), (2018.55, -.535), (2019.25, -.53)]
I_upper = [(1992.15, .54), (1992.6, .52), (1993.3, .54), (1993.8, .435), (1994.5, .41), (1994.95, .40),
           (1995.3, .265), (1996.1, .25), (1996.6, .26), (1997.15, .29), (1997.7, .31), (1998.2, .32),
           (1998.55, .335), (1998.9, .37), (1999.25, .32), (1999.6, .365), (1999.95, .205), (2000.45, .14),
           (2001.15, .125), (2001.85, .11), (2002.55, .125), (2003.25, .14), (2004.1, .16), (2004.65, .18),
           (2005.15, .215), (2005.7, .16), (2006.4, .195), (2007.1, .125), (2007.75, .07), (2008.3, -.035),
           (2009.0, .055), (2009.85, .065), (2010.55, .035), (2011.6, .01), (2013.0, -.035), (2014.05, -.02),
           (2015.45, -.14), (2016.85, -.19), (2017.9, -.28), (2018.8, -.335), (2019.4, -.325)]
I_lower = [(1992.15, .037), (1992.45, -.105), (1992.85, -.21), (1993.35, -.175), (1993.9, -.12), (1994.35, -.21),
           (1994.8, -.07), (1995.05, .037), (1995.6, .07), (1996.25, .11), (1996.95, .09), (1997.65, .055),
           (1998.35, .02), (1999.05, -.015), (1999.55, -.07), (1999.95, -.14), (2000.6, -.21), (2001.15, -.22),
           (2001.85, -.225), (2002.55, -.21), (2003.25, -.19), (2004.1, -.19), (2005.0, -.155), (2005.7, -.14),
           (2006.75, -.12), (2007.6, -.105), (2008.3, -.245), (2009.0, -.315), (2009.7, -.39), (2010.6, -.51),
           (2011.3, -.42), (2012.0, -.405), (2012.7, -.51), (2013.4, -.635), (2014.45, -.79), (2015.85, -.74),
           (2016.9, -.67), (2017.95, -.615), (2018.65, -.635), (2019.4, -.67)]
I_site1 = [(1992.1, .05), (1992.5, .52), (1993.2, .48), (1994.0, .40), (1994.8, .40), (1995.2, .20),
           (1996.0, .20), (1997.0, .25), (1997.8, .30), (1998.5, .35), (1999.2, .25), (2000.0, .10),
           (2001.0, .05), (2002.0, .05), (2003.0, .10), (2004.0, .15), (2005.0, .20), (2006.0, .10),
           (2007.3, .05), (2008.5, .05), (2009.0, 0.0), (2010.5, 0.0), (2012.0, -.05), (2014.5, -.15),
           (2016.5, -.20), (2018.5, -.35), (2019.4, -.33)]
I_site2 = [(1992.1, .15), (1993.0, -.20), (1994.0, -.05), (1994.8, -.20), (1995.2, .10), (1996.0, .15),
           (1997.0, .10), (1998.0, .05), (1999.0, 0.0), (2000.0, -.10), (2001.0, -.20), (2002.0, -.20),
           (2003.0, -.15), (2004.0, -.05), (2005.0, -.05), (2006.0, -.10), (2007.0, -.15), (2008.5, -.30),
           (2009.5, -.30), (2010.6, -.52), (2011.5, -.32), (2013.0, -.60), (2014.5, -.78), (2016.5, -.60),
           (2018.5, -.62), (2019.4, -.60)]
I_site3 = [(1992.1, .10), (1993.0, .15), (1994.0, .15), (1995.0, .12), (1996.0, .20), (1997.0, .15),
           (1998.0, .10), (1999.0, .05), (2000.0, 0.0), (2001.0, -.05), (2002.0, -.05), (2003.0, -.05),
           (2004.0, 0.0), (2005.0, 0.0), (2006.0, .02), (2007.0, 0.0), (2008.0, -.25), (2009.0, -.35),
           (2010.0, -.40), (2011.6, -.30), (2012.5, -.30), (2014.5, -.50), (2016.5, -.60), (2018.5, -.45),
           (2019.4, -.40)]
I_site4 = [(1992.1, .12), (1993.0, .10), (1994.0, .12), (1995.0, .15), (1996.0, .18), (1997.0, .12),
           (1998.0, .08), (1999.0, .05), (2000.0, -.02), (2001.0, -.05), (2002.0, -.10), (2003.0, -.08),
           (2004.0, -.05), (2005.0, 0.0), (2006.0, -.05), (2007.0, -.05), (2008.0, -.28), (2009.0, -.30),
           (2010.6, -.45), (2011.6, -.32), (2013.0, -.45), (2014.5, -.55), (2016.5, -.62), (2018.5, -.58),
           (2019.4, -.62)]
I_site5 = [(2007.5, 0.0), (2008.5, -.20), (2009.5, 0.0), (2010.5, -.10), (2011.6, 0.0), (2013.0, -.10),
           (2014.5, -.20), (2016.5, -.38), (2018.5, -.55), (2019.4, -.50)]

panel_mean = {"A": A_mean, "B": B_mean, "C": C_mean, "D": D_mean, "E": E_mean,
              "F": F_mean, "G": G_mean, "H": H_mean, "I": I_mean}
panel_upper = {"A": A_upper, "B": B_upper, "C": C_upper, "D": D_upper, "E": E_upper,
               "F": F_upper, "G": G_upper, "H": H_upper, "I": I_upper}
panel_lower = {"A": A_lower, "B": B_lower, "C": C_lower, "D": D_lower, "E": E_lower,
               "F": F_lower, "G": G_lower, "H": H_lower, "I": I_lower}
panel_sites = {"A": [A_site1, A_site2, A_site3],
               "B": [B_site1, B_site2, B_site3, B_site4, B_site5],
               "C": [C_site1, C_site2, C_site3, C_site4],
               "D": [D_site1, D_site2, D_site3, D_site4],
               "E": [E_site1, E_site2, E_site3, E_site4],
               "F": [F_site1, F_site2, F_site3, F_site4, F_site5],
               "G": [G_site1, G_site2, G_site3, G_site4],
               "H": [H_site1, H_site2, H_site3],
               "I": [I_site1, I_site2, I_site3, I_site4, I_site5]}

y_ticks = [-0.8, -0.4, 0.0, 0.4, 0.8]
y_tick_labels = ["-0.8", "-0.4", "0.0", "+0.4", "+0.8"]
x_ticks = [1994, 1999, 2004, 2009, 2014, 2019]
x_tick_labels = ["1/1/1994", "", "1/1/2004", "", "1/1/2014", ""]

# ---------------------------------------------------------------------------
# Figure layout (pixels on a 1208 x 1871 canvas)
# ---------------------------------------------------------------------------
sns.set_theme(style="white")

def pick_serif():
    for fam in ("Liberation Serif", "Times New Roman", "DejaVu Serif"):
        try:
            fm.findfont(fm.FontProperties(family=fam), fallback_to_default=False)
            return fam
        except Exception:
            continue
    return "serif"

SERIF = pick_serif()
plt.rcParams["font.family"] = [SERIF, "DejaVu Serif"]
plt.rcParams["axes.unicode_minus"] = False

W, H = 1208, 1871
FS = 18.5
fig = plt.figure(figsize=(W / 100, H / 100), dpi=100)

canvas = fig.add_axes([0, 0, 1, 1])
canvas.set_xlim(0, W)
canvas.set_ylim(H, 0)
canvas.axis("off")

AX_W, AX_H = 380, 302
left_col = {"A": 33, "C": 408, "E": 781, "G": 1154, "I": 1529}
right_col = {"B": 222, "D": 594, "F": 967, "H": 1341}
ndc_at_top = {"B", "C", "D", "E"}
date_right = {"H": 0.805, "I": 0.762}

# Leaf y positions: each cluster starts at its own row, then 20 px per leaf
group_first_row = {"A": 175, "B": 332, "C": 508, "D": 695, "E": 892,
                   "F": 1050, "G": 1237, "H": 1462, "I": 1600}
LEAF_STEP = 20
leaf_y = {}
for g in panel_letters:
    for k, name in enumerate(cluster_sites[g]):
        leaf_y[name] = group_first_row[g] + k * LEAF_STEP

LEAF_X, ROOT_X = 172, 18
def hx(h):
    return LEAF_X - h * (LEAF_X - ROOT_X)

DCOL, DLW = "#1c1c1c", 1.2

def draw_node(node):
    if isinstance(node, str):
        return leaf_y[node], LEAF_X
    h, kids = node
    x = hx(h)
    pos = [draw_node(k) for k in kids]
    ys = [p[0] for p in pos]
    for (cy, cx) in pos:
        canvas.plot([x, cx], [cy, cy], color=DCOL, lw=DLW, solid_capstyle="butt")
    canvas.plot([x, x], [min(ys), max(ys)], color=DCOL, lw=DLW, solid_capstyle="butt")
    return (min(ys) + max(ys)) / 2, x

root_y, root_x = draw_node(tree_root)

# outer frame line on the left
canvas.plot([7, 7], [0, H], color="#333333", lw=1.0)

for name, y in leaf_y.items():
    canvas.text(LEAF_X + 1, y, name, fontsize=FS, ha="left", va="center_baseline", color="black")

# Cluster brackets and connectors to the panels
for g in panel_letters:
    col = cluster_colors[g]
    y0 = leaf_y[cluster_sites[g][0]] - 11.5
    y1 = leaf_y[cluster_sites[g][-1]] + 11.5
    canvas.plot([165, 257, 257, 165], [y0, y0, y1, y1], color=col, lw=1.6)
    ym = (y0 + y1) / 2
    if g in left_col:
        canvas.plot([263, 279], [ym, ym], color=col, lw=1.6)
    else:
        canvas.plot([263, 755], [ym, ym], color=col, lw=1.6)

def frac_rect(x0, y0, w, h):
    return [x0 / W, 1 - (y0 + h) / H, w / W, h / H]

def draw_panel(g, x0, top, box):
    col = cluster_colors[g]
    bx0, bx1, by0, by1 = box
    canvas.add_patch(Rectangle((bx0, by0), bx1 - bx0, by1 - by0, fill=False,
                               edgecolor=col, lw=1.6))
    ax = fig.add_axes(frac_rect(x0, top, AX_W, AX_H))
    ax.set_facecolor("white")
    ax.set_axisbelow(True)

    up = np.array(panel_upper[g])
    lo = np.array(panel_lower[g])
    ax.fill(np.concatenate([up[:, 0], lo[::-1, 0]]),
            np.concatenate([up[:, 1], lo[::-1, 1]]),
            facecolor="#c2c2c2", edgecolor="#3c3c3c", lw=0.7, zorder=1)
    ax.axhline(0, color="#111111", lw=1.0, zorder=2)

    for site in panel_sites[g]:
        s = pd.DataFrame(site, columns=["date", "ndc"])
        sns.lineplot(data=s, x="date", y="ndc", ax=ax, color="#202020", lw=0.85,
                     sort=False, estimator=None, zorder=3)
    m = pd.DataFrame(panel_mean[g], columns=["date", "ndc"])
    sns.lineplot(data=m, x="date", y="ndc", ax=ax, color="#ec1b1b", lw=2.3,
                 sort=False, estimator=None, zorder=4)

    ax.set_xlim(1991.95, 2019.42)
    ax.set_ylim(-0.8, 0.8)
    ax.set_xticks(x_ticks, x_tick_labels)
    ax.set_yticks(y_ticks, y_tick_labels)
    ax.set_yticks(np.arange(-0.8, 0.81, 0.1), minor=True)
    ax.set_xlabel("")
    ax.set_ylabel("")
    ax.grid(True, which="major", color="#3a3a3a", lw=0.9, ls=(0, (3.5, 3)))
    for side in ("top", "right"):
        ax.spines[side].set_visible(False)
    for side in ("left", "bottom"):
        ax.spines[side].set_color("#222222")
        ax.spines[side].set_linewidth(1.1)
    ax.tick_params(axis="x", which="major", direction="out", length=9, width=1,
                   color="#333333", labelsize=FS, pad=3, bottom=True)
    ax.tick_params(axis="y", which="major", direction="out", length=9, width=1,
                   color="#333333", labelsize=FS, pad=1.5, left=True)
    ax.tick_params(axis="y", which="minor", direction="out", length=5, width=0.8,
                   color="#555555", left=True)

    bbox = dict(boxstyle="round,pad=0.22,rounding_size=0.45", fc="white", ec="#222222", lw=1.0)
    ax.text(0.967, 0.972, g, transform=ax.transAxes, fontsize=FS, ha="center", va="center",
            bbox=bbox, zorder=6)
    ny = 0.82 if g in ndc_at_top else 0.19
    ax.text(0.063, ny, "NDC (-)", transform=ax.transAxes, fontsize=FS, rotation=90,
            ha="center", va="center", bbox=bbox, zorder=6)
    ax.text(date_right.get(g, 0.905), 0.062, "Date (day/month/year)", transform=ax.transAxes,
            fontsize=FS, ha="right", va="center", bbox=bbox, zorder=6)
    return ax

for g, top in left_col.items():
    draw_panel(g, 352, top, (282, 737, top - 18, top + AX_H + 38))
for g, top in right_col.items():
    draw_panel(g, 821, top, (755, 1207, top - 20, top + AX_H + 37))

fig.savefig("out.png", dpi=100)
